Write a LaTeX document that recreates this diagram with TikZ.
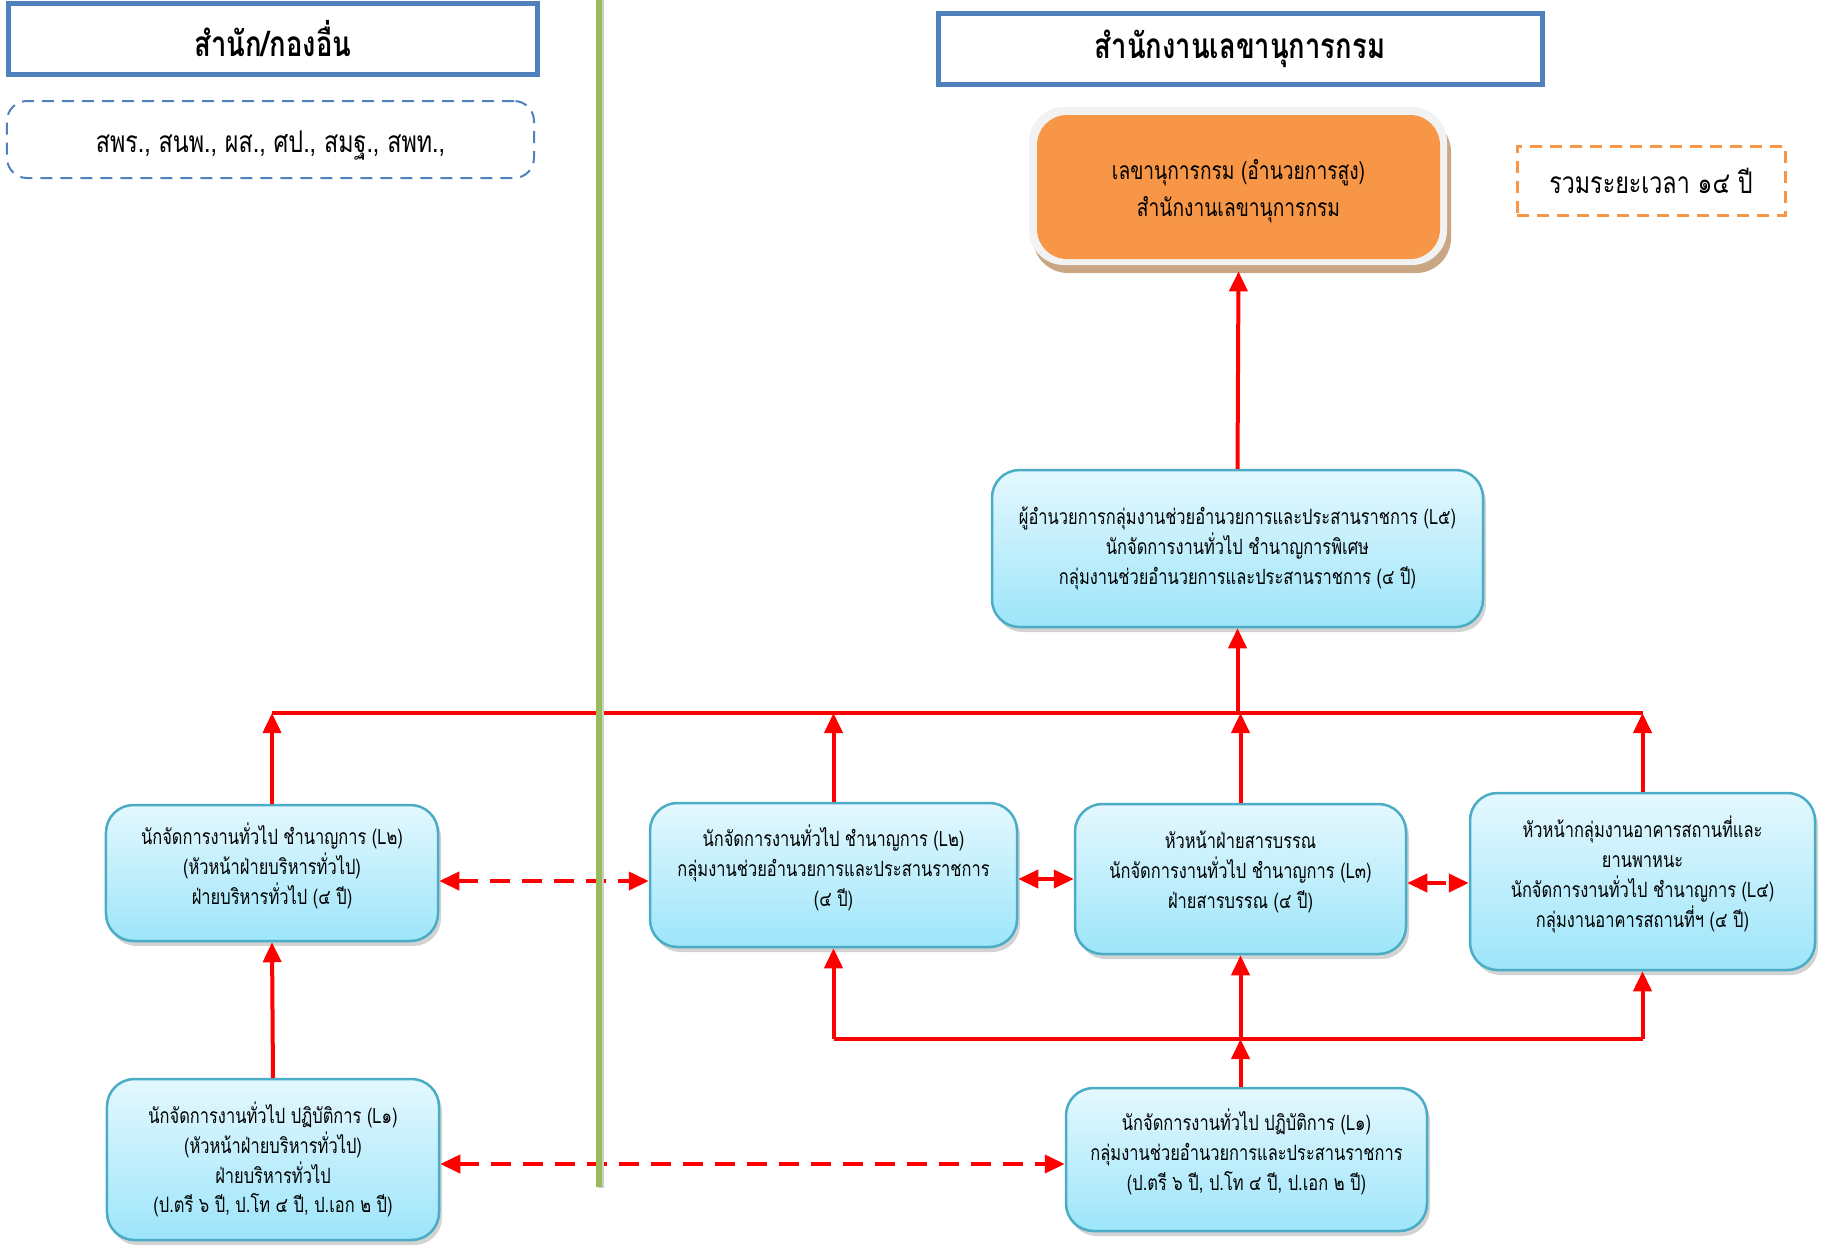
\documentclass[tikz,border=0pt]{standalone}
\usepackage{fontspec}
\setmainfont[Script=Thai,FakeStretch=0.78]{Loma}
\usetikzlibrary{arrows.meta,shadows}
\definecolor{hdrblue}{HTML}{4F81BD}
\definecolor{rimcyan}{HTML}{4BACC6}
\definecolor{boxtop}{HTML}{E4F8FE}
\definecolor{boxbot}{HTML}{9DE5FA}
\definecolor{secorange}{HTML}{F79646}
\definecolor{frameface}{HTML}{F2F2F2}
\definecolor{frametan}{HTML}{C9A684}
\definecolor{sepgreen}{HTML}{9BBB59}
\definecolor{linkred}{HTML}{FF0000}
\begin{document}
\begin{tikzpicture}[x=0.2mm,y=-0.2mm,
  hdr/.style={draw=hdrblue,line width=1mm,fill=white,minimum height=14.2mm,font=\fontsize{20}{24}\selectfont\bfseries},
  posbox/.style={draw=rimcyan,line width=0.5mm,rounded corners=5.5mm,top color=boxtop,bottom color=boxbot,align=center,
    font=\fontsize{12}{17}\selectfont,drop shadow={shadow xshift=0.6mm,shadow yshift=-1mm,opacity=0.35}},
  lifted/.style={text depth=11pt},
  promo/.style={linkred,line width=0.8mm,-{Triangle[length=4mm,width=3.6mm]}},
  peer/.style={linkred,line width=0.8mm,dash pattern=on 4mm off 2.4mm,{Triangle[length=4mm,width=3.6mm]}-{Triangle[length=4mm,width=3.6mm]}},
  bus/.style={linkred,line width=0.8mm}]
\useasboundingbox (0,0) rectangle (1821,1248);
\node[hdr,minimum width=105.6mm] (hdrOther) at (273,38.5) {สำนัก/กองอื่น};
\node[draw=hdrblue,line width=0.4mm,dash pattern=on 2.4mm off 1.6mm,rounded corners=4mm,minimum width=105.4mm,minimum height=15.4mm,
  text height=6.5mm,text depth=1.4mm,font=\fontsize{17}{20}\selectfont] (grpOther) at (270.5,139.5) {สพร., สนพ., ผส., ศป., สมฐ., สพท.,};
\node[hdr,minimum width=120.8mm] (hdrSec) at (1240,48.5) {สำนักงานเลขานุการกรม};
\fill[frametan,rounded corners=7mm] (1033,117) rectangle (1451,273);
\fill[frameface,rounded corners=7mm] (1029,107) rectangle (1447,265);
\node[fill=secorange,rounded corners=6mm,minimum width=80.6mm,minimum height=28.8mm,align=center,text height=13.3mm,text depth=1.5mm,
  font=\fontsize{14}{21}\selectfont] (chief) at (1238.5,187) {เลขานุการกรม (อำนวยการสูง)\\สำนักงานเลขานุการกรม};
\node[draw=secorange,line width=0.6mm,dash pattern=on 2.4mm off 1.6mm,minimum width=53.6mm,minimum height=13.8mm,
  font=\fontsize{17}{22}\selectfont] (span) at (1651,180.5) {รวมระยะเวลา ๑๔ ปี};
\node[posbox,minimum width=98.2mm,minimum height=31.4mm] (dir) at (1237.5,548.5)
  {ผู้อำนวยการกลุ่มงานช่วยอำนวยการและประสานราชการ (L๕)\\นักจัดการงานทั่วไป ชำนาญการพิเศษ\\กลุ่มงานช่วยอำนวยการและประสานราชการ (๔ ปี)};
\node[posbox,lifted,minimum width=66.4mm,minimum height=27.2mm] (genL2) at (272,873)
  {นักจัดการงานทั่วไป ชำนาญการ (L๒)\\(หัวหน้าฝ่ายบริหารทั่วไป)\\ฝ่ายบริหารทั่วไป (๔ ปี)};
\node[posbox,lifted,minimum width=73.4mm,minimum height=28.8mm] (grpL2) at (833.5,875)
  {นักจัดการงานทั่วไป ชำนาญการ (L๒)\\กลุ่มงานช่วยอำนวยการและประสานราชการ\\(๔ ปี)};
\node[posbox,lifted,minimum width=66.2mm,minimum height=30mm] (libL3) at (1240.5,879)
  {หัวหน้าฝ่ายสารบรรณ\\นักจัดการงานทั่วไป ชำนาญการ (L๓)\\ฝ่ายสารบรรณ (๔ ปี)};
\node[posbox,lifted,minimum width=69mm,minimum height=35.4mm] (bldL4) at (1642.5,881.5)
  {หัวหน้ากลุ่มงานอาคารสถานที่และ\\ยานพาหนะ\\นักจัดการงานทั่วไป ชำนาญการ (L๔)\\กลุ่มงานอาคารสถานที่ฯ (๔ ปี)};
\node[posbox,minimum width=66.4mm,minimum height=32.2mm] (genL1) at (273,1159.5)
  {นักจัดการงานทั่วไป ปฏิบัติการ (L๑)\\(หัวหน้าฝ่ายบริหารทั่วไป)\\ฝ่ายบริหารทั่วไป\\(ป.ตรี ๖ ปี, ป.โท ๔ ปี, ป.เอก ๒ ปี)};
\node[posbox,lifted,minimum width=72.2mm,minimum height=28.6mm] (grpL1) at (1246.5,1159.5)
  {นักจัดการงานทั่วไป ปฏิบัติการ (L๑)\\กลุ่มงานช่วยอำนวยการและประสานราชการ\\(ป.ตรี ๖ ปี, ป.โท ๔ ปี, ป.เอก ๒ ปี)};
\coordinate (upBus) at (0,713);
\coordinate (lowBus) at (0,1039);
\draw[bus] (genL2.north |- upBus) -- (bldL4.north |- upBus);
\draw[promo] (genL2.north) -- (genL2.north |- upBus);
\draw[promo] (grpL2.north) -- (grpL2.north |- upBus);
\draw[promo] (libL3.north) -- (libL3.north |- upBus);
\draw[promo] (bldL4.north) -- (bldL4.north |- upBus);
\draw[promo] (dir.south |- upBus) -- (dir.south);
\draw[promo] (dir.north) -- ([yshift=-2.4mm]chief.south);
\draw[bus] (grpL2.south |- lowBus) -- (bldL4.south |- lowBus);
\draw[promo] (grpL2.south |- lowBus) -- (grpL2.south);
\draw[promo] (libL3.south |- lowBus) -- (libL3.south);
\draw[promo] (bldL4.south |- lowBus) -- (bldL4.south);
\draw[promo] (libL3.south |- grpL1.north) -- (libL3.south |- lowBus);
\draw[promo] (genL1.north) -- (genL2.south);
\draw[peer] ([yshift=-1.6mm]genL2.east) -- ([yshift=-1.6mm]genL2.east -| grpL2.west);
\draw[peer] ([yshift=-0.8mm]grpL2.east) -- ([yshift=-0.8mm]grpL2.east -| libL3.west);
\draw[peer] ([yshift=-0.8mm]libL3.east) -- ([yshift=-0.8mm]libL3.east -| bldL4.west);
\draw[peer] ([yshift=-0.9mm]genL1.east) -- ([yshift=-0.9mm]genL1.east -| grpL1.west);
\draw[black!20,line width=1.2mm] (600.5,0) -- (600.5,1188);
\draw[sepgreen,line width=1.2mm] (599,0) -- (599,1187);
\end{tikzpicture}
\end{document}
